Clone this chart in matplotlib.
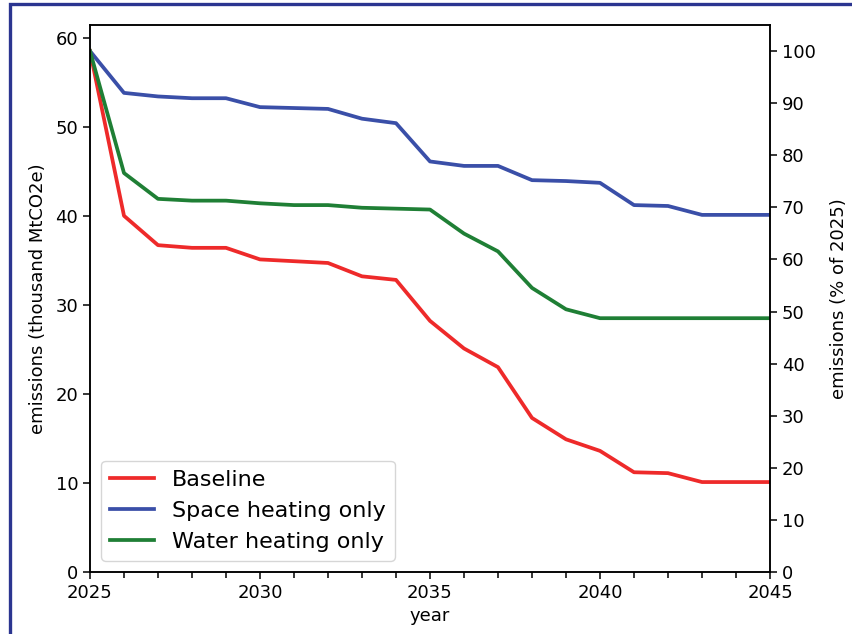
import matplotlib.pyplot as plt
from matplotlib.patches import Rectangle
import numpy as np

years = np.arange(2025, 2046)
baseline = [58.5, 40.0, 36.7, 36.4, 36.4, 35.1, 34.9, 34.7, 33.2, 32.8, 28.2,
            25.1, 23.0, 17.3, 14.9, 13.6, 11.2, 11.1, 10.1, 10.1, 10.1]
space_only = [58.5, 53.8, 53.4, 53.2, 53.2, 52.2, 52.1, 52.0, 50.9, 50.4, 46.1,
              45.6, 45.6, 44.0, 43.9, 43.7, 41.2, 41.1, 40.1, 40.1, 40.1]
water_only = [58.5, 44.8, 41.9, 41.7, 41.7, 41.4, 41.2, 41.2, 40.9, 40.8, 40.7,
              38.0, 36.0, 31.9, 29.5, 28.5, 28.5, 28.5, 28.5, 28.5, 28.5]
labels = ['Baseline', 'Space heating only', 'Water heating only']
colors = ['#ee2a2a', '#3a4fa8', '#1f7f35']

fig = plt.figure(figsize=(8.53, 6.34), dpi=100)
ax = fig.add_axes([0.1055, 0.0978, 0.7972, 0.8628])

for vals, lab, c in zip([baseline, space_only, water_only], labels, colors):
    ax.plot(years, vals, color=c, label=lab, lw=2.7)

ax.set_xlim(2025, 2045)
ymax = max(baseline + space_only + water_only) * 1.05
ax.set_ylim(0, ymax)
ax.set_xticks([2025, 2030, 2035, 2040, 2045])
ax.set_xticks(np.arange(2025, 2046), minor=True)
ax.tick_params(labelsize=13, length=5, width=1.1)
ax.tick_params(which='minor', length=4, width=1.1)
ax.set_xlabel('year', fontsize=13)
ax.set_ylabel('emissions (thousand MtCO2e)', fontsize=13, labelpad=6)
ax.legend(loc='lower left', fontsize=16, handlelength=2.0)

ax2 = ax.twinx()
ax2.set_ylim(0, ymax / baseline[0] * 100)
ax2.set_yticks(np.arange(0, 101, 10))
ax2.tick_params(labelsize=13, length=5, width=1.1)
ax2.set_ylabel('emissions (% of 2025)', fontsize=13, labelpad=10)

for a in (ax, ax2):
    for s in a.spines.values():
        s.set_linewidth(1.1)

# outer frame
fig.patches.append(Rectangle((10 / 853, -0.1), 2, 1.1 - 4 / 634, transform=fig.transFigure,
                             fill=False, edgecolor='#2b3590', lw=2.4, zorder=10))

fig.savefig('out.png', dpi=100)
